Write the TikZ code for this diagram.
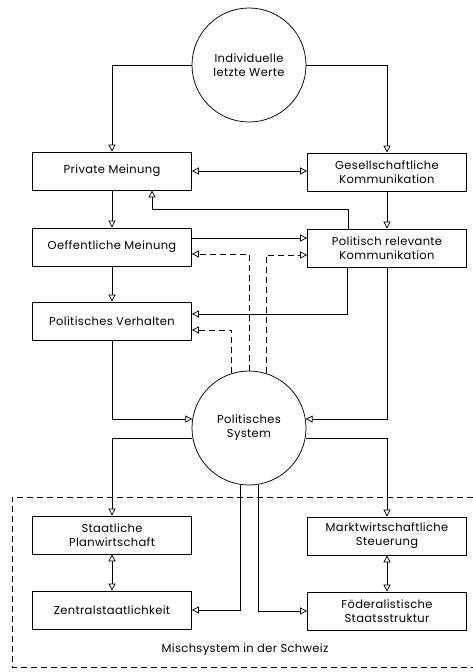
\documentclass[tikz,border=0pt]{standalone}
\usepackage{fontspec}
\setmainfont{Poppins}[LetterSpace=3]
\usepackage{tikz}
\usetikzlibrary{arrows.meta,positioning}

\begin{document}
\begin{tikzpicture}[x=1pt,y=-1pt,line width=0.75pt,
    font=\fontsize{11.5}{14}\selectfont,
    box/.style={draw,rectangle,minimum width=159pt,minimum height=38pt,align=center,inner sep=2pt},
    kreis/.style={draw,circle,minimum size=114pt,align=center,inner sep=0pt},
    pfeil/.style={-{Triangle[open,length=7pt,width=7pt]}},
    doppel/.style={{Triangle[open,length=7pt,width=7pt]}-{Triangle[open,length=7pt,width=7pt]}},
    strich/.style={dashed,dash pattern=on 6pt off 4pt}]
    \useasboundingbox (0,0) rectangle (473,672);
    \node[kreis] (werte)   at (249,65)  {Individuelle\\letzte Werte};
    \node[box]   (privat)  at (112,171) {Private Meinung};
    \node[box]   (gesell)  at (387,172) {Gesellschaftliche\\Kommunikation};
    \node[box]   (oeff)    at (112,247) {Oeffentliche Meinung};
    \node[box]   (polkom)  at (387,248) {Politisch relevante\\Kommunikation};
    \node[box]   (verh)    at (112,321) {Politisches Verhalten};
    \node[kreis] (system)  at (249,428) {Politisches\\System};
    \node[box]   (plan)    at (112,535) {Staatliche\\Planwirtschaft};
    \node[box]   (markt)   at (387,536) {Marktwirtschaftliche\\Steuerung};
    \node[box]   (zentral) at (112,610) {Zentralstaatlichkeit};
    \node[box]   (foed)    at (387,611) {Föderalistische\\Staatsstruktur};
    \node (misch) at (245,650) {Mischsystem in der Schweiz};
    % obere Haelfte
    \draw[pfeil] (werte.west) -| (privat.north);
    \draw[pfeil] (werte.east) -| (gesell.north);
    \draw[doppel] (privat.east) -- (privat.east -| gesell.west);
    \draw[pfeil] (privat.south) -- (oeff.north);
    \draw[pfeil] (gesell.south) -- (polkom.north);
    \draw[pfeil] ([xshift=-39pt]polkom.north) -- ++(0,-19) -| ([xshift=40pt]privat.south);
    \draw[pfeil] ([yshift=9pt]oeff.east) -- ([yshift=9pt]oeff.east -| polkom.west);
    \draw[pfeil] (oeff.south) -- (verh.north);
    \draw[pfeil] ([xshift=-40pt]polkom.south) |- ([yshift=7pt]verh.east);
    \draw[pfeil,strich] (system.north) |- ([yshift=-7pt]oeff.east);
    \draw[pfeil,strich] (system.72) |- ([yshift=-7pt]polkom.west);
    \draw[pfeil,strich] (system.108) |- ([yshift=-9pt]verh.east);
    \draw[pfeil] (verh.south) |- (system.171);
    \draw[pfeil] (polkom.south) |- (system.9);
    % untere Haelfte
    \draw[pfeil] (system.190) -| (plan.north);
    \draw[pfeil] (system.350) -| (markt.north);
    \draw[doppel] (plan.south) -- (zentral.north);
    \draw[doppel] (markt.south) -- (foed.north);
    \draw[pfeil] (system.261) |- (zentral.east);
    \draw[pfeil] (system.279) |- (foed.west);
    \draw[strich,line width=0.6pt] (473,497) -- (12,497) -- (12,667) -- (473,667);
\end{tikzpicture}
\end{document}
